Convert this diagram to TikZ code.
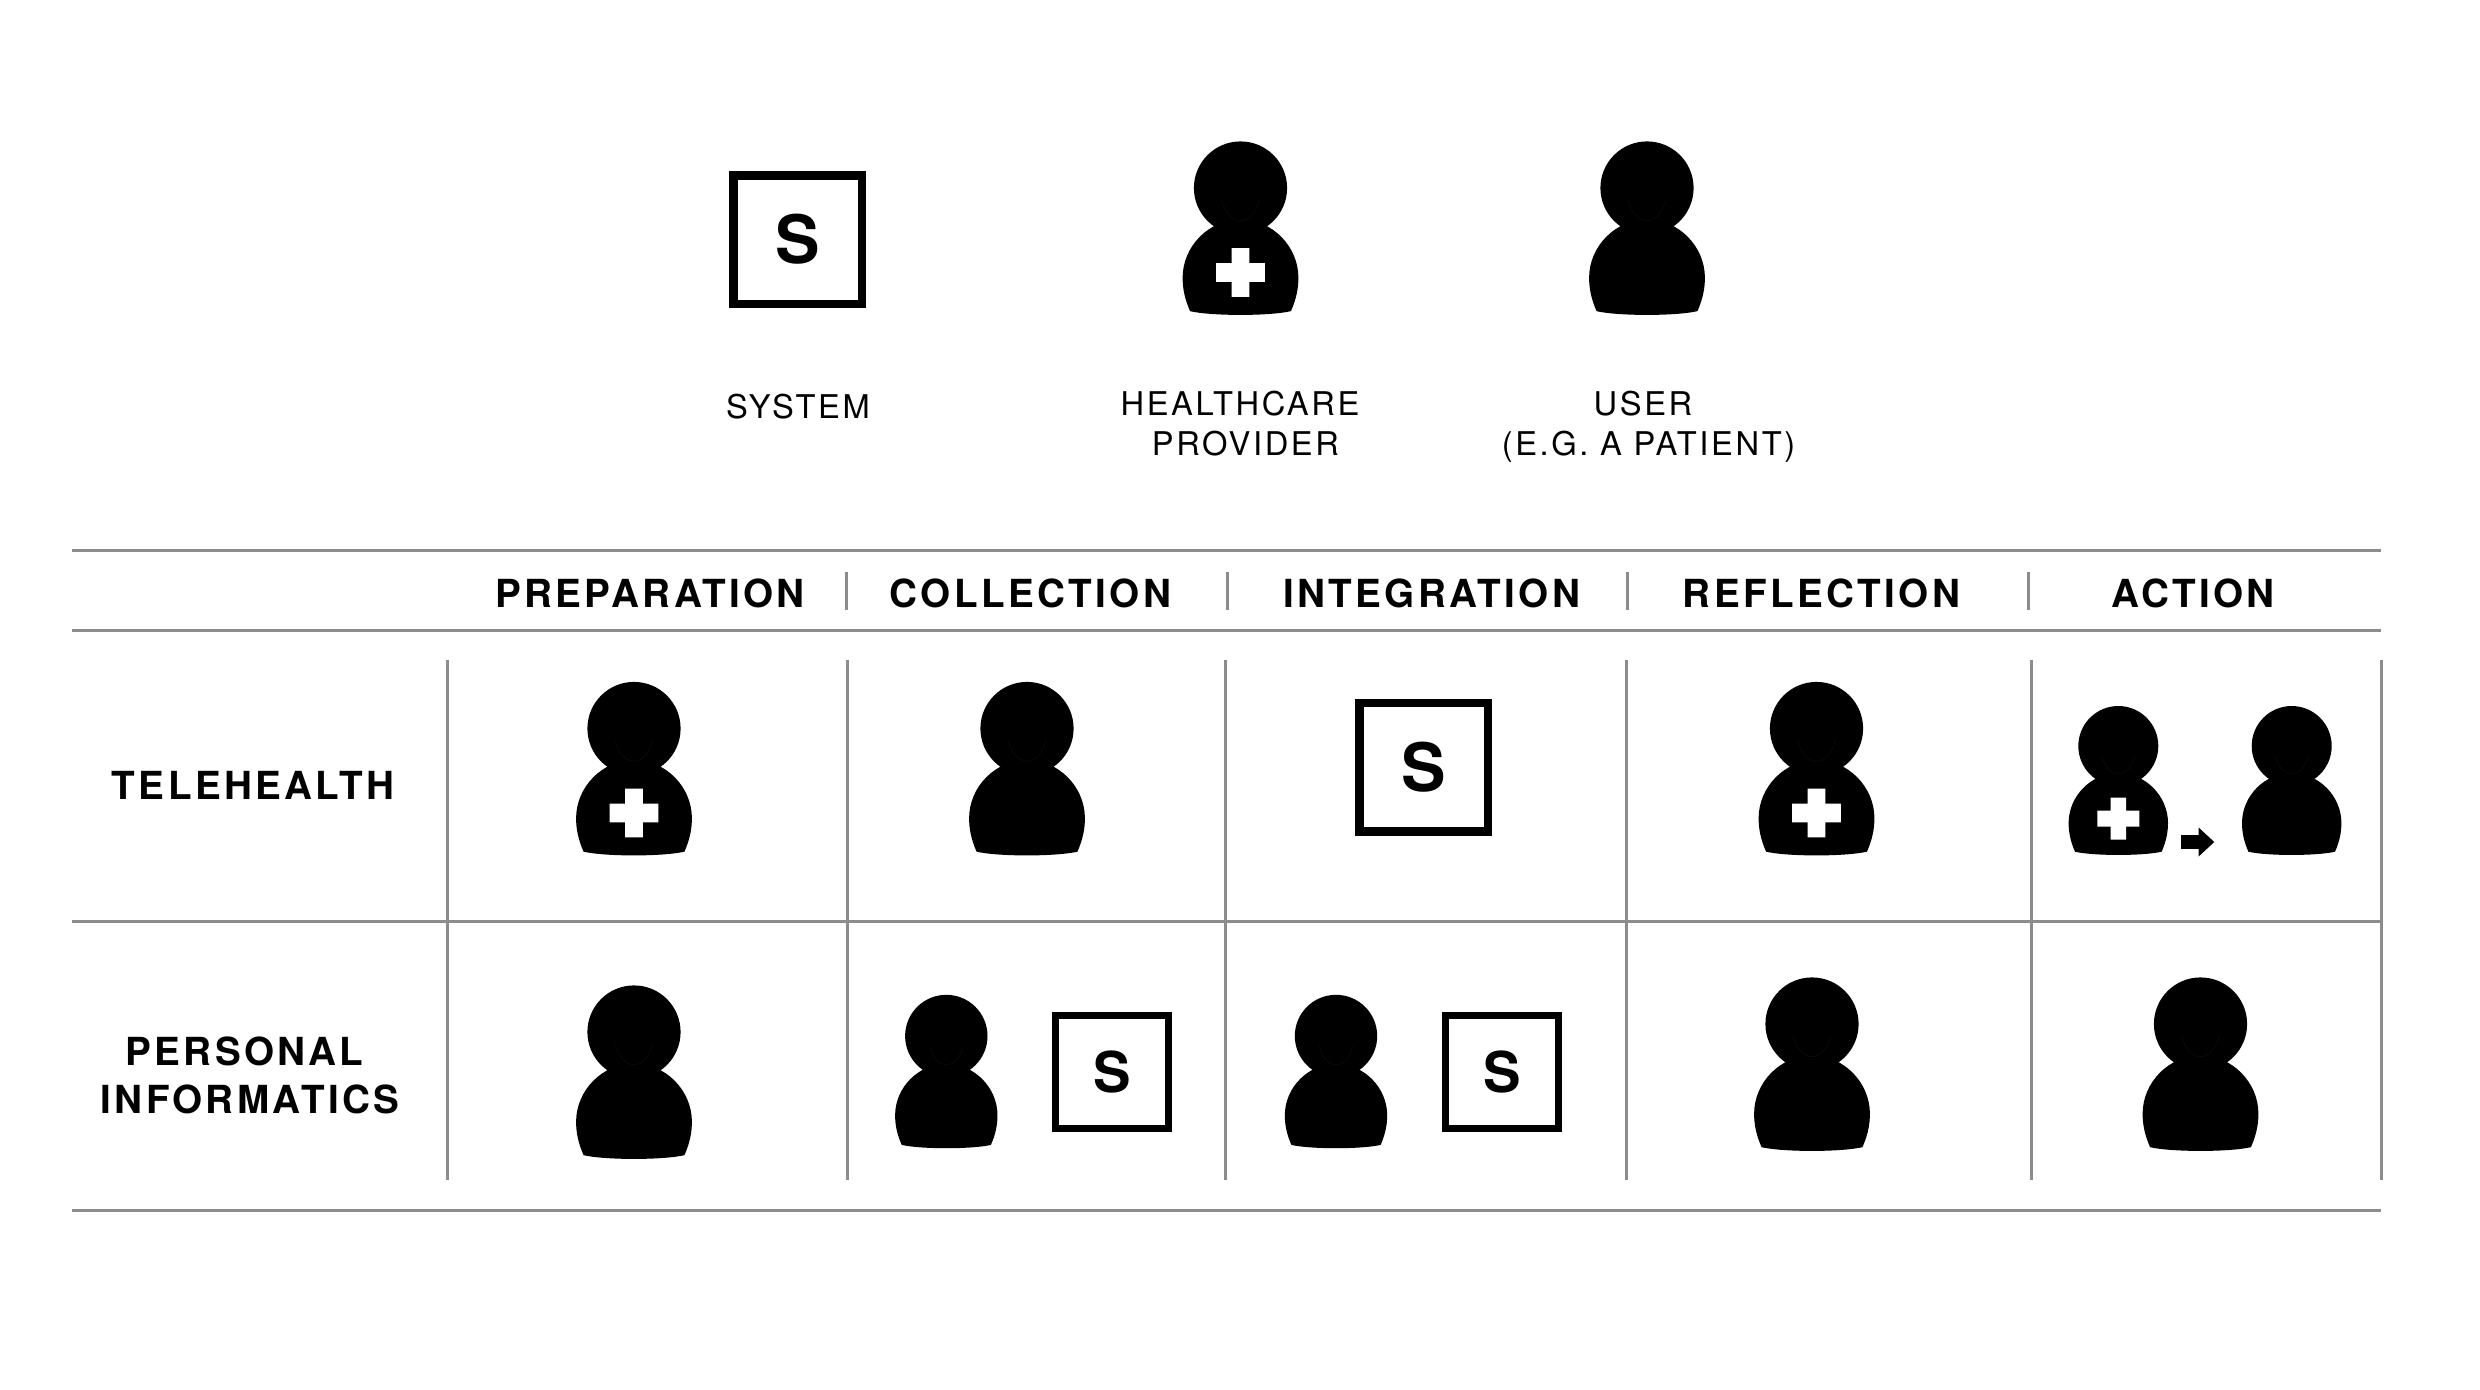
\documentclass[tikz,border=0pt]{standalone}
\usepackage{fontspec}
\setmainfont{TeX Gyre Heros}
\newfontfamily\lblfont[LetterSpace=8]{TeX Gyre Heros}
\newfontfamily\hdfont[LetterSpace=8.7]{TeX Gyre Heros}
\usetikzlibrary{arrows.meta,positioning}
\definecolor{rulegray}{HTML}{8C8C8C}
\newcommand{\personshape}{
  \fill (0,0) circle (40);
  \fill (-43.3,105.7) .. controls (-48,95) and (-49.7,86) .. (-49.7,77)
    .. controls (-49.7,50) and (-27,27) .. (0,27)
    .. controls (27,27) and (49.7,50) .. (49.7,77)
    .. controls (49.7,86) and (48,95) .. (43.3,105.7)
    .. controls (25,110) and (-25,110) .. cycle;
  \draw[black!92, line width=0.03mm] (-16.3,10) .. controls (-13,22) and (-7,28) .. (0,28) .. controls (7,28) and (13,22) .. (16.3,10);
}
\tikzset{
  rule/.style={draw=rulegray, line width=0.3mm},
  sbox/.style={draw, rectangle, line width=0.85mm, fill=white, minimum size=12.85mm, inner sep=0pt, font=\bfseries\fontsize{19}{19}\selectfont},
  sboxsm/.style={sbox, line width=0.7mm, minimum size=11.3mm, font=\bfseries\fontsize{16}{16}\selectfont},
  lbl/.style={font=\lblfont\fontsize{9.3}{11.3}\selectfont, align=center, inner sep=0pt},
  hd/.style={font=\hdfont\bfseries\fontsize{11}{13.5}\selectfont, align=center, inner sep=0pt},
  arr/.style={-{Triangle[length=1.57mm,width=2.8mm]}, line width=1.4mm},
  person/.pic={\personshape},
  provider/.pic={
    \personshape
    \fill[white] (-7.7,51.5) -- (7.7,51.5) -- (7.7,64.5) -- (21,64.5) -- (21,80.5) -- (7.7,80.5) -- (7.7,93.5) -- (-7.7,93.5) -- (-7.7,80.5) -- (-21,80.5) -- (-21,64.5) -- (-7.7,64.5) -- cycle;
  },
}
\begin{document}
\begin{tikzpicture}[x=0.1mm,y=-0.1mm]
\useasboundingbox (0,0) rectangle (2480,1389);
% legend
\node[sbox] (sysK) at (797.5,239.5) {S};
\pic[scale=1.165] (provK) at (1240.5,188) {provider};
\pic[scale=1.165] (userK) at (1647,188) {person};
\node[lbl] (sysT) at (798,407) {SYSTEM};
\node[lbl] (provT) at (1240,423.5) {HEALTHCARE\\\hspace*{1.1mm}PROVIDER};
\node[lbl] (userT) at (1643,426.5) {USER\\\hspace*{1.1mm}(E.G. A PATIENT)};
% rules
\foreach \y in {550,630,921,1210} \draw[rule] (71.5,\y) -- (2381,\y);
\foreach \x in {846,1227,1627,2028} \draw[rule] (\x,572) -- (\x,610);
\foreach \x in {447.5,847,1225.5,1626,2031.5,2381} \draw[rule] (\x,660) -- (\x,1180);
% column and row titles
\node[hd] (prep) at (650,593) {PREPARATION};
\node[hd] (coll) at (1030.5,593) {COLLECTION};
\node[hd] (intg) at (1431.5,593) {INTEGRATION};
\node[hd] (refl) at (1821.5,593) {REFLECTION};
\node[hd] (actn) at (2193,593) {ACTION};
\node[hd] (tele) at (253,785) {TELEHEALTH};
\node[hd] (pinf) at (250,1075.5) {\hspace*{-1.1mm}PERSONAL\\INFORMATICS};
% telehealth row
\pic[scale=1.165] (tA) at (634,728.5) {provider};
\pic[scale=1.165] (tB) at (1027,728.5) {person};
\node[sbox] (tC) at (1423.5,767) {S};
\pic[scale=1.165] (tD) at (1816.5,728.5) {provider};
\pic (tE) at (2118.3,746) {provider};
\pic (tF) at (2291.7,746) {person};
\coordinate (hA) at (2181,842);
\coordinate (hB) at (2214.3,842);
\draw[arr] (hA) -- (hB);
% informatics row
\pic[scale=1.165] (pA) at (634,1032) {person};
\pic[scale=1.03] (pB) at (946.3,1036) {person};
\node[sboxsm] (pBs) at (1112,1072) {S};
\pic[scale=1.03] (pC) at (1336,1036) {person};
\node[sboxsm] (pCs) at (1502,1072) {S};
\pic[scale=1.165] (pD) at (1812,1024) {person};
\pic[scale=1.165] (pE) at (2200.5,1024) {person};
\end{tikzpicture}
\end{document}
